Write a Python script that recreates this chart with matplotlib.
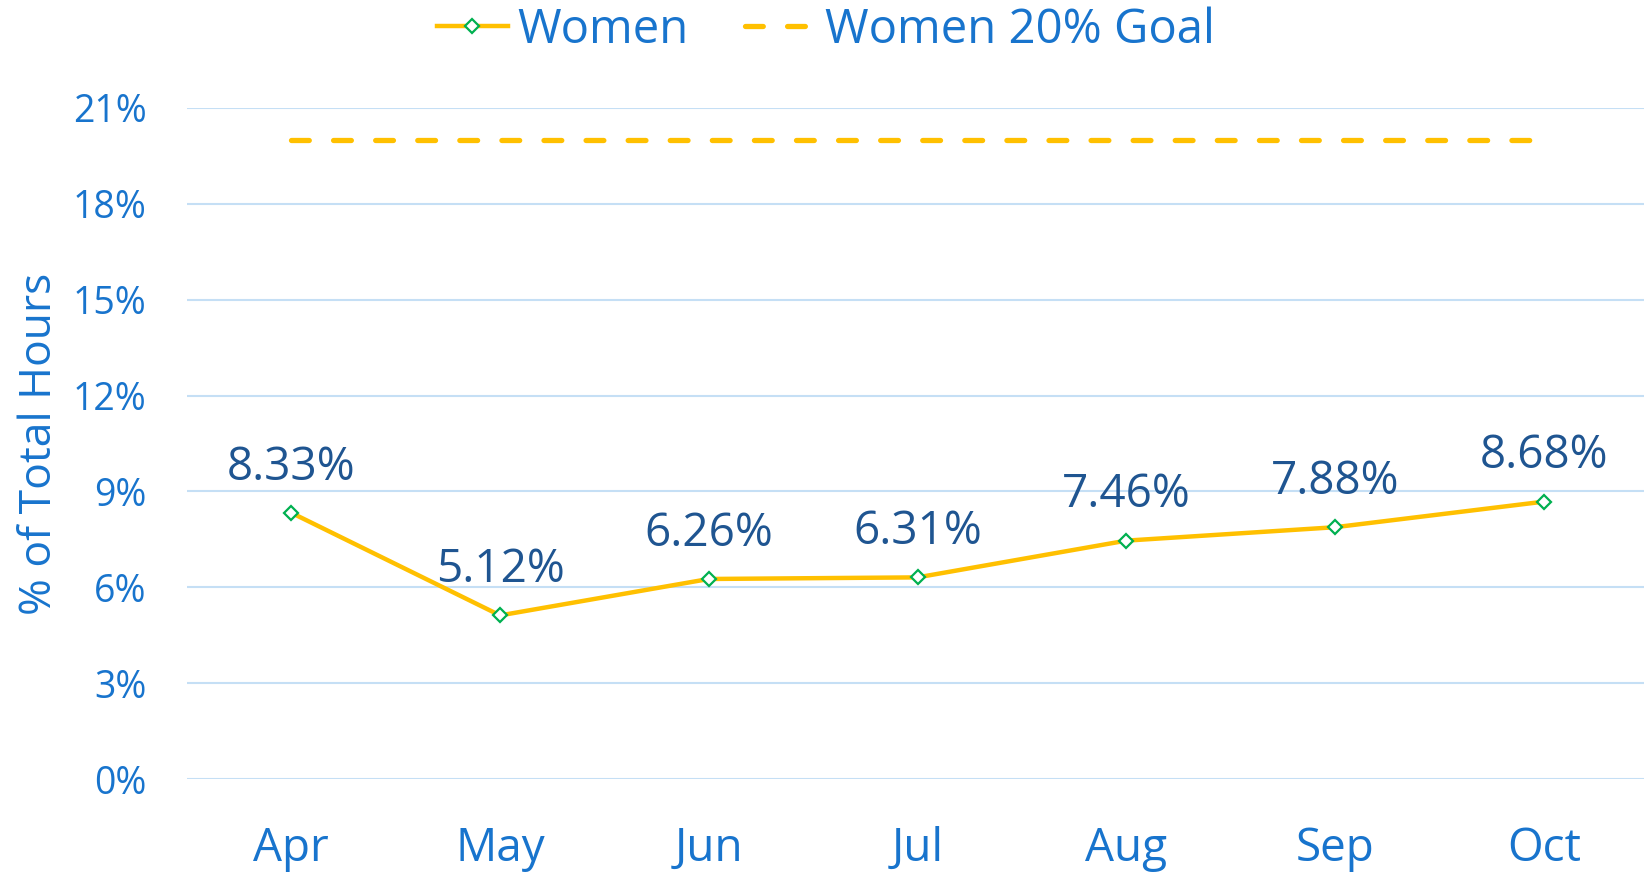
import matplotlib
matplotlib.use("Agg")
import matplotlib.pyplot as plt
from matplotlib.ticker import FuncFormatter

months = ["Apr", "May", "Jun", "Jul", "Aug", "Sep", "Oct"]
women = [8.33, 5.12, 6.26, 6.31, 7.46, 7.88, 8.68]
goal = [20, 20, 20, 20, 20, 20, 20]
yticks = [0, 3, 6, 9, 12, 15, 18, 21]

plt.rcParams['font.family'] = ['Open Sans', 'DejaVu Sans']

tick_color = "#1874CD"
label_color = "#1F5591"
line_color = "#FFC000"
marker_edge = "#00B050"
grid_color = "#C5DFF5"

fig = plt.figure(figsize=(16.44, 8.72), dpi=100)
ax = fig.add_axes([187/1644, 1 - 779/872, 1 - 187/1644, (779 - 108)/872])

x = list(range(len(months)))
l1, = ax.plot(x, women, color=line_color, lw=3.2, marker='D', markersize=7,
              markerfacecolor='white', markeredgecolor=marker_edge, markeredgewidth=1.6,
              label="Women", zorder=3)
goal_lw = 3.8
l2, = ax.plot(x, goal, color=line_color, lw=goal_lw,
              dashes=(12.8 / goal_lw, 17.5 / goal_lw), dash_capstyle='round',
              label="Women 20% Goal", zorder=3)

for xi, v in zip(x, women):
    ax.annotate(f"{v:.2f}%", (xi, v), xytext=(0, 16), textcoords='offset points',
                ha='center', va='bottom', fontsize=33, color=label_color)

ax.set_xlim(-0.5, len(months) - 0.52)
ax.set_ylim(0, 21)
ax.set_yticks(yticks)
ax.yaxis.set_major_formatter(FuncFormatter(lambda v, p: f"{v:.0f}%"))
ax.set_xticks(x)
ax.set_xticklabels(months)
ax.grid(axis='y', color=grid_color, lw=1.5)
ax.set_axisbelow(True)
for s in ax.spines.values():
    s.set_visible(False)
ax.tick_params(axis='y', length=0, pad=29, labelsize=27, labelcolor=tick_color)
ax.tick_params(axis='x', length=0, pad=34, labelsize=33, labelcolor=tick_color)
ax.set_ylabel("% of Total Hours", fontsize=32, color=tick_color, labelpad=8)

fig.legend(handles=[l1, l2], loc='center', bbox_to_anchor=(826/1644, 1 - 30/872),
           ncol=2, frameon=False, fontsize=34, labelcolor=tick_color,
           handlelength=1.5, handletextpad=0.2, columnspacing=1.2)

fig.savefig("out.png", dpi=100)
